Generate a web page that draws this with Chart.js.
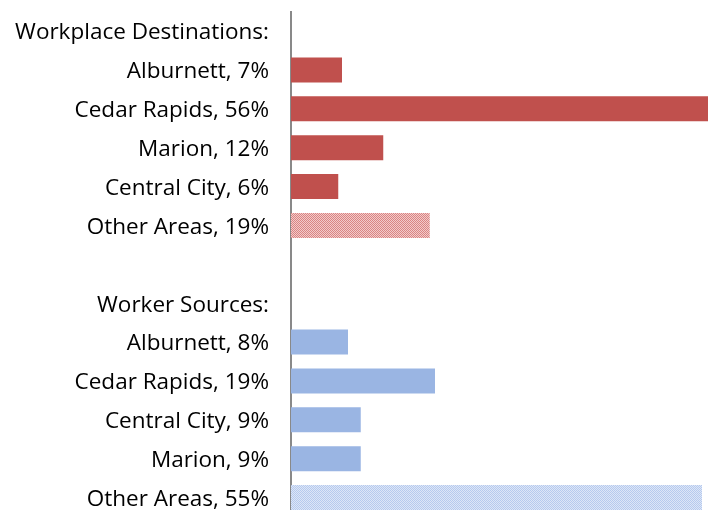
<!DOCTYPE html>
<html>
<head>
<meta charset="utf-8">
<script src="https://cdn.jsdelivr.net/npm/chart.js@4/dist/chart.umd.min.js"></script>
<style>
html,body{margin:0;padding:0;overflow:hidden;background:#fff;width:708px;height:510px;}
#wrap{position:absolute;left:0;top:0;width:708px;height:517px;}
</style>
</head>
<body>
<div id="wrap"><canvas id="c" width="708" height="517"></canvas></div>
<script>
// Data
const destHeader = 'Workplace Destinations:';
const destLabels = ['Alburnett, 7%', 'Cedar Rapids, 56%', 'Marion, 12%', 'Central City, 6%', 'Other Areas, 19%'];
const destValues = [6.8, 56, 12.3, 6.3, 18.5];
const sourceHeader = 'Worker Sources:';
const sourceLabels = ['Alburnett, 8%', 'Cedar Rapids, 19%', 'Central City, 9%', 'Marion, 9%', 'Other Areas, 55%'];
const sourceValues = [7.6, 19.2, 9.3, 9.3, 54.8];
const xMax = 55.6;

const RED = '#C0504D';
const BLUE = '#9AB5E3';

function makePattern(dark, light) {
  const p = document.createElement('canvas');
  p.width = 2; p.height = 2;
  const g = p.getContext('2d');
  g.fillStyle = light; g.fillRect(0, 0, 2, 2);
  g.fillStyle = dark; g.fillRect(0, 0, 1, 1); g.fillRect(1, 1, 1, 1);
  return g.createPattern(p, 'repeat');
}
const redPattern = makePattern('#D98583', '#F3CACA');
const bluePattern = makePattern('#B6CAEE', '#DDE6F7');

const labels = [destHeader, ...destLabels, '', sourceHeader, ...sourceLabels];
const values = [null, ...destValues, null, null, ...sourceValues];
const colors = [null,
  ...destLabels.map((l, i) => i === destLabels.length - 1 ? redPattern : RED),
  null, null,
  ...sourceLabels.map((l, i) => i === sourceLabels.length - 1 ? bluePattern : BLUE)];

new Chart(document.getElementById('c'), {
  type: 'bar',
  data: {
    labels: labels,
    datasets: [{
      data: values,
      backgroundColor: colors,
      borderWidth: 0,
      barPercentage: 0.645,
      categoryPercentage: 1
    }]
  },
  options: {
    indexAxis: 'y',
    responsive: false,
    animation: false,
    layout: { padding: { top: 11.6, right: 0, bottom: 0, left: 0 } },
    plugins: { legend: { display: false }, tooltip: { enabled: false } },
    scales: {
      x: { display: false, min: 0, max: xMax },
      y: {
        afterFit: (s) => { s.width = 291; s.paddingTop = 0; s.paddingBottom = 0; },
        grid: { display: false, drawTicks: false },
        border: { display: true, color: '#898989', width: 2 },
        ticks: {
          color: '#000',
          padding: 22,
          labelOffset: 2,
          font: { family: 'Open Sans', size: 22.5 }
        }
      }
    }
  }
});
</script>
</body>
</html>
